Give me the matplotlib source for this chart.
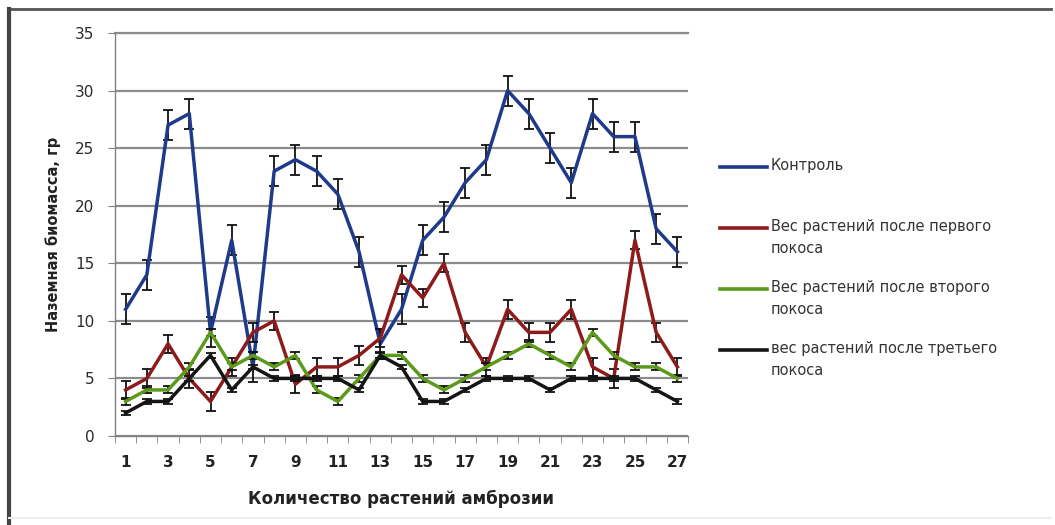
import matplotlib
matplotlib.use("Agg")
import matplotlib.pyplot as plt
from matplotlib.lines import Line2D

# number of ragweed plants (categories)
x = list(range(1, 28))

control = [11, 14, 27, 28, 9, 17, 6, 23, 24, 23, 21, 16, 8, 11, 17, 19, 22, 24,
           30, 28, 25, 22, 28, 26, 26, 18, 16]
mow1 = [4, 5, 8, 5, 3, 6, 9, 10, 4.5, 6, 6, 7, 8.5, 14, 12, 15, 9, 6,
        11, 9, 9, 11, 6, 5, 17, 9, 6]
mow2 = [3, 4, 4, 6, 9, 6, 7, 6, 7, 4, 3, 5, 7, 7, 5, 4, 5, 6,
        7, 8, 7, 6, 9, 7, 6, 6, 5]
mow3 = [2, 3, 3, 5, 7, 4, 6, 5, 5, 5, 5, 4, 7, 6, 3, 3, 4, 5,
        5, 5, 4, 5, 5, 5, 5, 4, 3]

# standard errors (same for every point of a series, as in Excel)
err = [1.3, 0.8, 0.3, 0.2]

labels = ["Контроль",
          "Вес растений после первого\nпокоса",
          "Вес растений после второго\nпокоса",
          "вес растений после третьего\nпокоса"]
colors = ["#1f3a8a", "#8e1b1b", "#5c9a1c", "#151515"]

W, H = 1055, 525
fig = plt.figure(figsize=(W / 100, H / 100), dpi=100)
ax = fig.add_axes([115 / W, 89 / H, 573 / W, 403 / H])

for vals, e, c, z in zip([control, mow1, mow2, mow3], err, colors, [3, 4, 5, 6]):
    ax.errorbar(x, vals, yerr=e, color=c, lw=2.5, ecolor="#111111",
                elinewidth=1.3, capsize=3.5, capthick=1.3, zorder=z)

ax.set_xlim(0.5, 27.5)
ax.set_ylim(0, 35)
ax.set_yticks(range(0, 36, 5))
ax.set_xticks(range(1, 28, 2))
ax.set_xticks([i + 0.5 for i in range(0, 28)], minor=True)
ax.tick_params(axis="x", which="major", length=0, pad=14, labelsize=11)
ax.tick_params(axis="x", which="minor", length=5, direction="out", color="#808080")
ax.tick_params(axis="y", length=5, direction="out", color="#808080", pad=10,
               labelsize=11, labelcolor="#2a2a2a")
for lab in ax.get_xticklabels():
    lab.set_fontweight("bold")
    lab.set_color("#222222")

ax.grid(axis="y", color="#8c8c8c", lw=1.6)
ax.set_axisbelow(True)
for s in ["top", "right"]:
    ax.spines[s].set_visible(False)
for s in ["left", "bottom"]:
    ax.spines[s].set_color("#808080")
    ax.spines[s].set_linewidth(1.0)
# top gridline at 35
ax.axhline(35, color="#8c8c8c", lw=1.6, zorder=0.5, clip_on=False)

ax.set_ylabel("Наземная биомасса, гр", fontsize=10.5, fontweight="bold",
              color="#222222", labelpad=10)
ax.set_xlabel("Количество растений амброзии", fontsize=12, fontweight="bold",
              color="#222222", labelpad=14)

# legend, entries aligned to first text line
for i, (lab, c) in enumerate(zip(labels, colors)):
    yp = 167 + 61 * i
    fig.add_artist(Line2D([720 / W, 767 / W], [1 - yp / H, 1 - yp / H],
                          color=c, lw=2.6))
    fig.text(771 / W, 1 - (yp - 9) / H, lab, fontsize=10.5, va="top",
             ha="left", color="#333333", linespacing=1.55)

# outer frame
fig.add_artist(Line2D([9 / W, 1051 / W], [1 - 9 / H, 1 - 9 / H], color="#555555", lw=2))
fig.add_artist(Line2D([9 / W, 9 / W], [1 - 9 / H, 0], color="#444444", lw=3))
fig.add_artist(Line2D([9 / W, 1051 / W], [1 - 518 / H, 1 - 518 / H], color="#eeeeee", lw=1.5))

fig.savefig("out.png", dpi=100)
